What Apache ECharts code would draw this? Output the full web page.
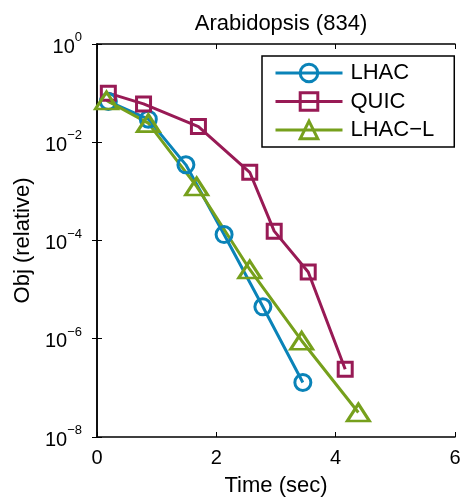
<!DOCTYPE html>
<html>
<head>
<meta charset="utf-8">
<script src="https://cdn.jsdelivr.net/npm/echarts@6/dist/echarts.min.js"></script>
<style>
  html, body { margin: 0; padding: 0; background: #fff; }
  #chart { width: 467px; height: 502px; }
</style>
</head>
<body>
<div id="chart"></div>
<script>
// data
const lhacTime = [0.19, 0.86, 1.49, 2.13, 2.78, 3.45]
const lhacObj = [0.0676, 0.0295, 0.00347, 1.32e-4, 4.47e-6, 1.29e-7]
const quicTime = [0.19, 0.78, 1.70, 2.56, 2.97, 3.54, 4.16]
const quicObj = [0.1, 0.0603, 0.0209, 0.00245, 1.55e-4, 2.29e-5, 2.40e-7]
const lhaclTime = [0.16, 0.86, 1.67, 2.56, 3.43, 4.38]
const lhaclObj = [0.0708, 0.0245, 0.00126, 2.57e-5, 9.12e-7, 3.16e-8]
const seriesNames = ['LHAC', 'QUIC', 'LHAC\u2212L']

const font = 'Liberation Sans'
const colors = ['#0a83b8', '#981a55', '#76a01c']

const chart = echarts.init(document.getElementById('chart'))

function pairs (xs, ys) {
  return xs.map((x, i) => [x, ys[i]])
}

function makeSeries (name, xs, ys, color, symbol, size) {
  return {
    name: name,
    type: 'line',
    data: pairs(xs, ys),
    symbol: symbol,
    symbolSize: size,
    lineStyle: { color: color, width: 3 },
    itemStyle: { color: 'rgba(255,255,255,0)', borderColor: color, borderWidth: 3 },
    emphasis: { disabled: true }
  }
}

// tick labels like 10^-2
function logLabel (v) {
  const e = Math.round(Math.log10(v))
  const sup = e === 0 ? '0' : '\u2212' + (-e)
  return '{b|10}{s|' + sup + '}'
}

const tickStyle = { show: true, inside: true, length: 5, lineStyle: { color: '#000', width: 1 } }
const lineStyle = { show: true, lineStyle: { color: '#000', width: 1.5 } }

const option = {
  animation: false,
  backgroundColor: '#fff',
  textStyle: { fontFamily: font },
  title: {
    text: 'Arabidopsis (834)',
    left: 276,
    textAlign: 'center',
    top: 8,
    textStyle: { fontFamily: font, fontSize: 22, fontWeight: 'normal', color: '#000' }
  },
  grid: { left: 97, right: 12, top: 44, bottom: 64 },
  legend: {
    data: seriesNames,
    orient: 'vertical',
    left: 262,
    top: 56,
    padding: [6, 20, 6, 12],
    itemWidth: 67,
    itemHeight: 22,
    itemGap: 6.5,
    borderColor: '#000',
    borderWidth: 1.5,
    backgroundColor: '#fff',
    lineStyle: { width: 3 },
    itemStyle: { borderWidth: 3 },
    textStyle: { fontFamily: font, fontSize: 22, color: '#000', padding: [0, 0, 0, 3] },
    selectedMode: false
  },
  xAxis: [
    {
      type: 'value',
      min: 0,
      max: 6,
      interval: 2,
      name: 'Time (sec)',
      nameLocation: 'middle',
      nameGap: 38,
      nameTextStyle: { fontFamily: font, fontSize: 22, color: '#000' },
      axisLine: lineStyle,
      axisTick: tickStyle,
      splitLine: { show: false },
      axisLabel: { fontFamily: font, fontSize: 20, color: '#000', margin: 11 }
    },
    {
      type: 'value',
      position: 'top',
      min: 0,
      max: 6,
      interval: 2,
      axisLine: lineStyle,
      axisTick: tickStyle,
      splitLine: { show: false },
      axisLabel: { show: false }
    }
  ],
  yAxis: [
    {
      type: 'log',
      logBase: 10,
      min: 1e-8,
      max: 1,
      interval: 2,
      name: 'Obj (relative)',
      nameLocation: 'middle',
      nameGap: 58,
      nameTextStyle: { fontFamily: font, fontSize: 22, color: '#000' },
      axisLine: lineStyle,
      axisTick: tickStyle,
      splitLine: { show: false },
      axisLabel: {
        margin: 15,
        formatter: logLabel,
        rich: {
          b: { fontFamily: font, fontSize: 20, color: '#000', lineHeight: 26, verticalAlign: 'bottom' },
          s: { fontFamily: font, fontSize: 13, color: '#000', verticalAlign: 'top', lineHeight: 26 }
        }
      }
    },
    {
      type: 'log',
      logBase: 10,
      position: 'right',
      min: 1e-8,
      max: 1,
      interval: 2,
      axisLine: lineStyle,
      axisTick: tickStyle,
      splitLine: { show: false },
      axisLabel: { show: false }
    }
  ],
  series: [
    makeSeries(seriesNames[0], lhacTime, lhacObj, colors[0], 'circle', 16),
    makeSeries(seriesNames[1], quicTime, quicObj, colors[1], 'rect', 14),
    makeSeries(seriesNames[2], lhaclTime, lhaclObj, colors[2], 'triangle', [22, 17])
  ]
}

chart.setOption(option)
</script>
</body>
</html>
